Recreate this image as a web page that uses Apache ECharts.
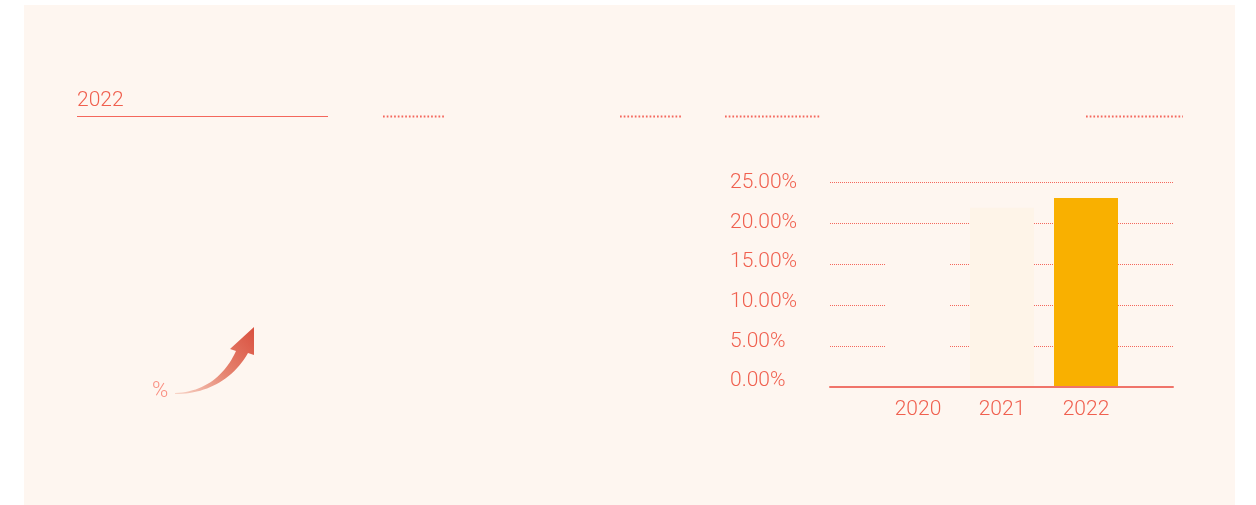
<!DOCTYPE html>
<html>
<head>
<meta charset="utf-8">
<style>html,body{margin:0;padding:0;background:#fff}#c{width:1256px;height:505px}</style>
<script src="https://cdn.jsdelivr.net/npm/echarts@6/dist/echarts.min.js"></script>
</head>
<body>
<div id="c"></div>
<script>
var years = [2020, 2021, 2022];
var values = [17, 21.9, 23.1];
var barColors = ['#FEF6F0', '#FEF4E8', '#F9B000'];
var FONT = 'Roboto';
var RED = '#F0604F';
function bez(p0, p1, p2, p3, n) {
  var out = [];
  for (var i = 0; i <= n; i++) {
    var t = i / n, u = 1 - t;
    out.push([
      u*u*u*p0[0] + 3*u*u*t*p1[0] + 3*u*t*t*p2[0] + t*t*t*p3[0],
      u*u*u*p0[1] + 3*u*u*t*p1[1] + 3*u*t*t*p2[1] + t*t*t*p3[1]
    ]);
  }
  return out;
}
var arrowPoints = bez([175,393],[205,392],[225,375],[236,351],24)
  .concat([[230,349],[254,327],[254,355],[248,353]])
  .concat(bez([248,353],[232,381],[205,394],[175,394],24));
var chart = echarts.init(document.getElementById('c'));
chart.setOption({
  animation: false,
  backgroundColor: '#fff',
  grid: [
    {left: 830, width: 343, top: 182.5, height: 204.5},
    {left: 800, width: 10, top: 183, height: 198}
  ],
  xAxis: [
    {type: 'value', gridIndex: 0, min: 2020 - 88 / 84, max: 2022 + 87 / 84, splitLine: {show: false}, z: 5,
     axisLine: {show: true, onZero: false, lineStyle: {color: '#F0746A', width: 2}},
     axisTick: {show: false},
     axisLabel: {customValues: years, margin: 12,
       formatter: function (v) { return String(v); }, color: RED, fontFamily: FONT, fontWeight: 300, fontSize: 21}},
    {type: 'value', gridIndex: 1, min: 0, max: 1, show: false}
  ],
  yAxis: [
    {type: 'value', gridIndex: 0, min: 0, max: 25, interval: 5, axisLine: {show: false}, axisTick: {show: false},
     axisLabel: {show: false},
     splitLine: {show: true, lineStyle: {color: '#F4675C', type: [1, 1], width: 1}}},
    {type: 'value', gridIndex: 1, min: 0, max: 25, interval: 5, axisLine: {show: false}, axisTick: {show: false},
     splitLine: {show: false},
     axisLabel: {align: 'left', margin: 70, color: RED, fontFamily: FONT, fontWeight: 300, fontSize: 21,
       formatter: function (v) { return v.toFixed(2) + '%'; }}}
  ],
  series: [{
    type: 'bar', xAxisIndex: 0, yAxisIndex: 0, barWidth: 64, z: 3,
    data: years.map(function (y, i) {
      return {value: [y, values[i]], itemStyle: {color: barColors[i]}};
    })
  }],
  graphic: [
    {type: 'rect', z: -10, silent: true, shape: {x: 24, y: 5, width: 1211, height: 500}, style: {fill: '#FEF6F0'}},
    {type: 'text', x: 77, y: 90, style: {text: '2022', fill: RED, font: '300 21px Roboto'}},
    {type: 'line', shape: {x1: 77, y1: 116.5, x2: 328, y2: 116.5}, style: {stroke: '#F4675C', lineWidth: 1}},
    {type: 'line', shape: {x1: 383, y1: 116.5, x2: 445.5, y2: 116.5}, style: {stroke: '#F4675C', lineWidth: 2, lineDash: [1.7, 2]}},
    {type: 'line', shape: {x1: 620, y1: 116.5, x2: 682.5, y2: 116.5}, style: {stroke: '#F4675C', lineWidth: 2, lineDash: [1.7, 2]}},
    {type: 'line', shape: {x1: 725, y1: 116.5, x2: 821, y2: 116.5}, style: {stroke: '#F4675C', lineWidth: 2, lineDash: [1.7, 2]}},
    {type: 'line', shape: {x1: 1086, y1: 116.5, x2: 1183, y2: 116.5}, style: {stroke: '#F4675C', lineWidth: 2, lineDash: [1.7, 2]}},
    {type: 'text', x: 152, y: 380, style: {text: '%', fill: '#F98E80', font: '300 22px Roboto'}},
    {type: 'polygon', z: 5, shape: {points: arrowPoints},
     style: {fill: new echarts.graphic.LinearGradient(0, 1, 1, 0, [
       {offset: 0, color: '#F8D5C8'}, {offset: 0.5, color: '#E68470'}, {offset: 1, color: '#D9503F'}
     ], false)}}
  ]
});
</script>
</body>
</html>
